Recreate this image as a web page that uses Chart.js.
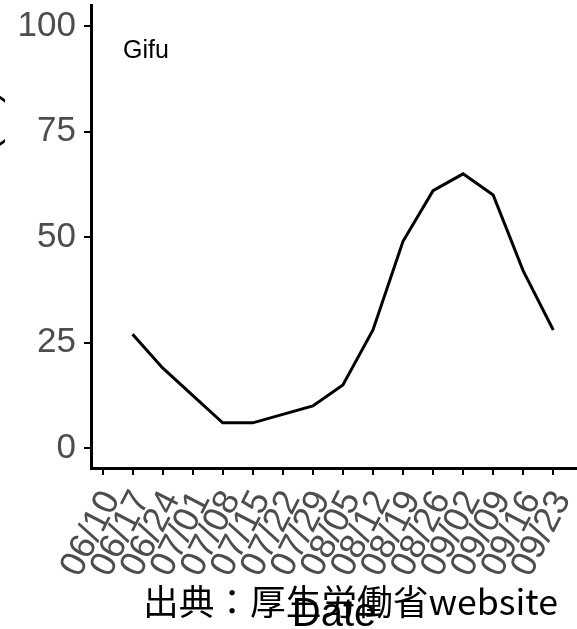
<!DOCTYPE html>
<html>
<head>
<meta charset="utf-8">
<script src="https://cdn.jsdelivr.net/npm/chart.js@4.4.1/dist/chart.umd.min.js"></script>
<style>
  html, body { margin: 0; padding: 0; width: 577px; height: 629px; overflow: hidden; background: #fff; }
  #wrap { position: absolute; left: -38px; top: 0; width: 615px; height: 640px; }
  #caption { position: absolute; left: 143px; top: 582px; font-family: "Noto Sans CJK JP", sans-serif; font-size: 35.7px; line-height: 1; color: #000; white-space: nowrap; }
</style>
</head>
<body>
<div id="wrap"><canvas id="c" width="615" height="640"></canvas></div>
<div id="caption">出典：厚生労働省website</div>
<script>
// ---- data ----
const categories = ["06/10","06/17","06/24","07/01","07/08","07/15","07/22","07/29","08/05","08/12","08/19","08/26","09/02","09/09","09/16","09/23"];
const positiveRate = [null, 27, 19, 12.5, 6, 6, 8, 10, 15, 28, 49, 61, 65, 60, 42, 28];
const yTicks = [0, 25, 50, 75, 100];
const panelLabel = "Gifu";
const xTitle = "Date";
const yTitle = "Positive rate (%)";

const points = positiveRate.map((v, i) => ({ x: i, y: v }));

const panelLabelPlugin = {
  id: 'panelLabel',
  afterDraw(chart) {
    const ctx = chart.ctx;
    ctx.save();
    ctx.font = '25px "Liberation Sans", Arial, sans-serif';
    ctx.fillStyle = '#000';
    ctx.textBaseline = 'alphabetic';
    ctx.fillText(panelLabel, chart.chartArea.left + 32, 58);
    ctx.restore();
  }
};

const yTickFont = { family: '"Liberation Sans", Arial, sans-serif', size: 35 };
const xTickFont = { family: '"Liberation Sans", Arial, sans-serif', size: 36 };

new Chart(document.getElementById('c'), {
  type: 'line',
  data: {
    datasets: [{
      data: points,
      borderColor: '#000',
      borderWidth: 3,
      pointRadius: 0,
      tension: 0,
      spanGaps: false,
      fill: false
    }]
  },
  options: {
    responsive: false,
    animation: false,
    layout: { padding: { top: 5, right: 0, bottom: 0, left: 0 } },
    plugins: { legend: { display: false }, tooltip: { enabled: false } },
    scales: {
      x: {
        type: 'linear',
        min: -0.383,
        max: 15.79,
        afterBuildTicks: (s) => { s.ticks = categories.map((c, i) => ({ value: i })); },
        afterFit: (s) => { s.height = 172; s.paddingLeft = 0; s.paddingRight = 0; },
        ticks: {
          callback: (v) => categories[v],
          autoSkip: false,
          maxRotation: 63,
          minRotation: 63,
          color: '#4d4d4d',
          padding: 9,
          labelOffset: 9,
          font: xTickFont
        },
        grid: { display: true, drawOnChartArea: false, drawTicks: true, tickLength: 7, color: '#000', lineWidth: 2 },
        border: { display: true, color: '#000', width: 3 },
        title: {
          display: true, text: xTitle, color: '#000',
          font: { family: '"Liberation Sans", Arial, sans-serif', size: 40, lineHeight: 1 },
          padding: { top: 0, bottom: 5 }
        }
      },
      y: {
        min: -4.7,
        max: 105,
        afterBuildTicks: (s) => { s.ticks = yTicks.map(v => ({ value: v })); },
        afterFit: (s) => { s.width = 129; s.paddingTop = 0; s.paddingBottom = 0; },
        ticks: {
          color: '#4d4d4d',
          padding: 8,
          font: yTickFont
        },
        grid: { display: true, drawOnChartArea: false, drawTicks: true, tickLength: 7, color: '#000', lineWidth: 2 },
        border: { display: true, color: '#000', width: 3 },
        title: {
          display: true, text: yTitle, color: '#000',
          font: { family: '"Liberation Sans", Arial, sans-serif', size: 40, lineHeight: 1.2 },
          padding: { top: 0, bottom: 0 }
        }
      }
    }
  },
  plugins: [panelLabelPlugin]
});
</script>
</body>
</html>
